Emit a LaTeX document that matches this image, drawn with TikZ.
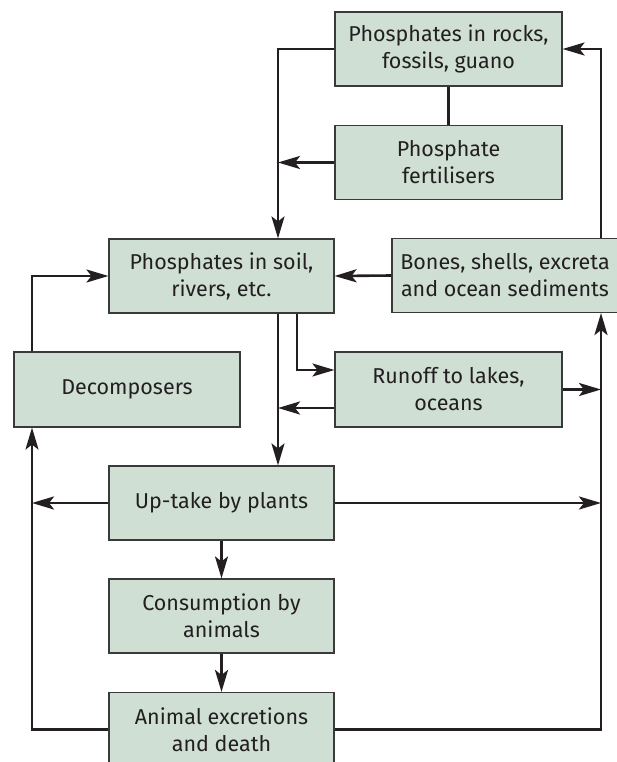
\documentclass[tikz,border=0pt]{standalone}
\usepackage{fontspec}
\setmainfont{Fira Sans}
\usetikzlibrary{arrows.meta,calc}
\definecolor{boxfill}{HTML}{CFDFD4}
\definecolor{boxline}{HTML}{3A3A3A}
\definecolor{ink}{HTML}{231F20}
\tikzset{
  box/.style={draw=boxline, fill=boxfill, line width=1.1pt, minimum width=227pt, minimum height=74pt,
    inner sep=0pt, align=center, text=ink, font=\fontsize{21.5}{27}\selectfont},
  conn/.style={draw=ink, line width=2.6pt},
  arr/.style={conn, -{Stealth[length=22pt, width=13pt, inset=5pt]}}
}
\begin{document}
\begin{tikzpicture}[x=1pt, y=-1pt]
\useasboundingbox (0,0) rectangle (616,762);
\coordinate (xL) at (278,0);
\coordinate (xR) at (601,0);
\coordinate (xD) at (32,0);
\coordinate (xS) at (297,0);
\node[box] (rocks) at (448.5,49) {Phosphates in rocks,\\fossils, guano};
\node[box] (fert) at (448.5,162.5) {Phosphate\\fertilisers};
\node[box, minimum width=225pt] (soil) at (221.5,276) {Phosphates in soil,\\rivers, etc.};
\node[box, minimum width=226pt] (bones) at (505,275.5) {Bones, shells, excreta\\and ocean sediments};
\node[box, minimum width=226pt, minimum height=75pt] (decomp) at (127,389.5) {Decomposers};
\node[box, minimum height=75pt] (runoff) at (448.5,389.5) {Runoff to lakes,\\oceans};
\node[box, minimum width=225pt] (uptake) at (221.5,503) {Up-take by plants};
\node[box, minimum width=225pt] (consum) at (221.5,616) {Consumption by\\animals};
\node[box, minimum width=225pt] (animal) at (221.5,729.5) {Animal excretions\\and death};

\draw[arr] (rocks.west) -| (xL |- soil.north);
\draw[conn] (rocks) -- (fert);
\draw[arr] (fert.west) -- (xL |- fert.west);
\draw[arr] (xR |- bones.north) |- (rocks.east);
\draw[arr] (bones.west) -- (soil.east);
\draw[arr] (xD |- decomp.north) |- (soil.west);
\draw[arr] (xL |- soil.south) -- (xL |- uptake.north);
\draw[arr] (xS |- soil.south) |- ($(runoff.west)+(0,-19.5)$);
\draw[arr] ($(runoff.west)+(0,18.5)$) -- (xL |- {$(runoff.west)+(0,18.5)$});
\draw[arr] (runoff.east) -- (xR |- runoff.east);
\draw[arr] (uptake.west) -- (xD |- uptake.west);
\draw[arr] (uptake.east) -- (xR |- uptake.east);
\draw[arr] (uptake) -- (consum);
\draw[arr] (consum) -- (animal);
\draw[arr] (animal.west) -| (xD |- decomp.south);
\draw[arr] (animal.east) -| (xR |- bones.south);
\end{tikzpicture}
\end{document}
